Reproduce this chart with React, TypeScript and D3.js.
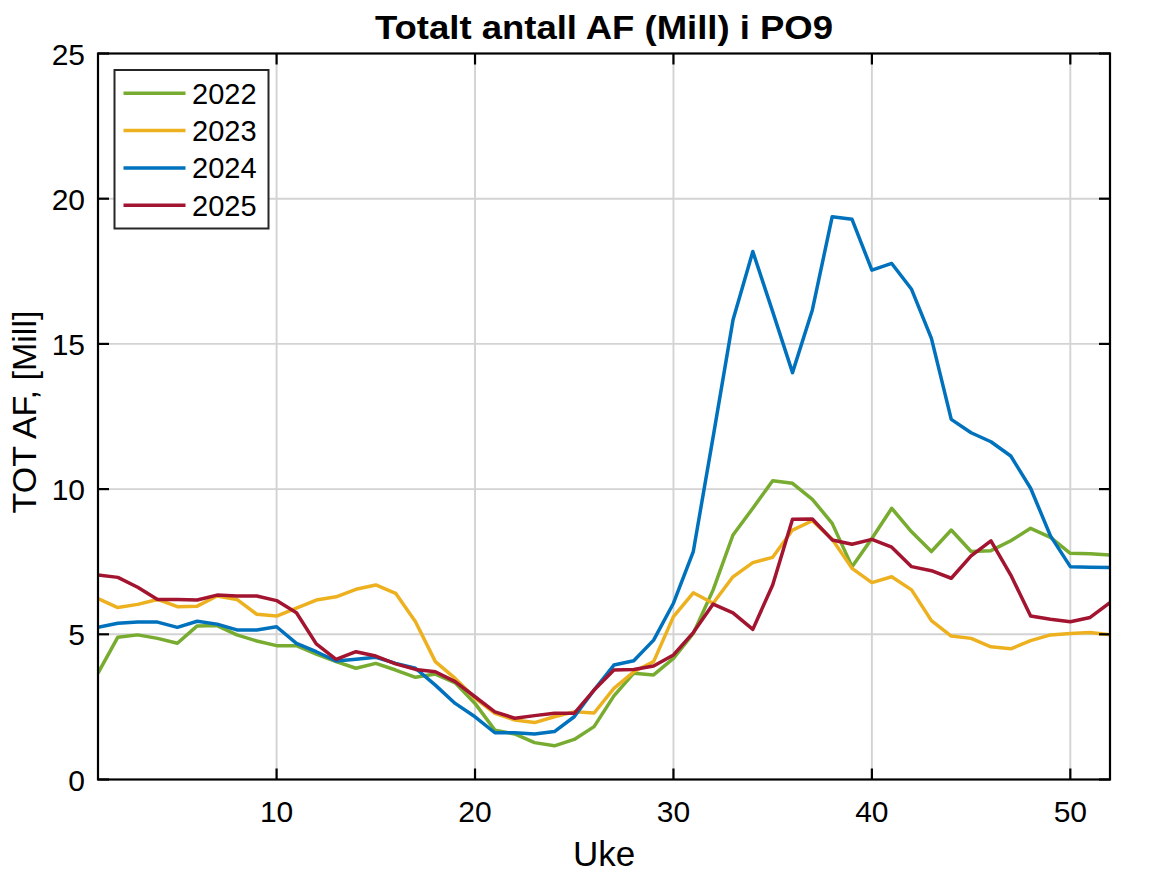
import React from "react";
import * as d3 from "d3";

const weeks = [1,2,3,4,5,6,7,8,9,10,11,12,13,14,15,16,17,18,19,20,21,22,23,24,25,26,27,28,29,30,31,32,33,34,35,36,37,38,39,40,41,42,43,44,45,46,47,48,49,50,51,52];

const y2022 = [3.66,4.90,4.98,4.86,4.69,5.29,5.30,4.98,4.77,4.61,4.61,4.32,4.06,3.83,4.00,3.77,3.52,3.63,3.33,2.62,1.70,1.57,1.27,1.16,1.38,1.82,2.88,3.66,3.60,4.17,5.03,6.53,8.42,9.34,10.29,10.20,9.65,8.82,7.33,8.30,9.34,8.53,7.85,8.59,7.85,7.88,8.22,8.65,8.34,7.79,7.77,7.73];
const y2023 = [6.23,5.92,6.03,6.20,5.95,5.97,6.32,6.20,5.69,5.63,5.90,6.18,6.29,6.55,6.70,6.41,5.43,4.06,3.48,2.80,2.28,2.05,1.96,2.16,2.33,2.29,3.14,3.71,4.06,5.61,6.43,6.07,6.98,7.47,7.65,8.59,8.91,8.27,7.27,6.78,6.98,6.53,5.47,4.94,4.86,4.57,4.50,4.78,4.98,5.03,5.06,4.98];
const y2024 = [5.24,5.38,5.42,5.42,5.24,5.45,5.35,5.15,5.15,5.26,4.69,4.40,4.08,4.14,4.21,4.00,3.83,3.25,2.62,2.16,1.61,1.61,1.57,1.65,2.16,3.08,3.94,4.09,4.80,6.07,7.85,11.8,15.82,18.18,16.11,14.01,16.17,19.38,19.29,17.54,17.77,16.88,15.19,12.40,11.94,11.63,11.14,10.03,8.39,7.33,7.31,7.30];
const y2025 = [7.04,6.96,6.62,6.20,6.20,6.18,6.35,6.32,6.32,6.16,5.74,4.67,4.14,4.40,4.25,3.98,3.79,3.71,3.37,2.85,2.33,2.11,2.20,2.28,2.28,3.08,3.77,3.79,3.91,4.29,5.06,6.04,5.74,5.17,6.70,8.96,8.97,8.25,8.10,8.27,8.00,7.33,7.19,6.93,7.70,8.22,7.04,5.63,5.52,5.43,5.58,6.09];

const seriesNames = ["2022", "2023", "2024", "2025"];
const seriesValues = [y2022, y2023, y2024, y2025];
const seriesColors = ["#77AC30", "#EDB120", "#0072BD", "#A2142F"];

const xTicks = [10, 20, 30, 40, 50];
const yTicks = [0, 5, 10, 15, 20, 25];

const title = "Totalt antall AF (Mill) i PO9";
const xLabel = "Uke";
const yLabel = "TOT AF, [Mill]";

const W = 1167, H = 875;
const L = 98, R = 1110, T = 53.5, B = 779.5;
const FONT = "'Liberation Sans', Arial, Helvetica, sans-serif";

export default function App() {
  const x = d3.scaleLinear().domain([1, 52]).range([L, R]);
  const y = d3.scaleLinear().domain([0, 25]).range([B, T]);
  const line = d3.line<number>().x((_, i) => x(weeks[i])).y((d) => y(d));
  const tickLen = 11;
  const lw = 3.5;

  return (
    <svg width={W} height={H} style={{ position: "absolute", left: 0, top: 0, background: "#fff" }} fontFamily={FONT}>
      <rect x={0} y={0} width={W} height={H} fill="#fff" />
      {xTicks.map((t) => (
        <line key={"gx" + t} x1={x(t)} x2={x(t)} y1={T} y2={B} stroke="#d3d3d3" strokeWidth={1.9} />
      ))}
      {yTicks.filter((t) => t > 0 && t < 25).map((t) => (
        <line key={"gy" + t} x1={L} x2={R} y1={y(t)} y2={y(t)} stroke="#d3d3d3" strokeWidth={1.9} />
      ))}
      <defs>
        <clipPath id="plotclip">
          <rect x={L} y={T} width={R - L} height={B - T} />
        </clipPath>
      </defs>
      <g clipPath="url(#plotclip)">
        {seriesValues.map((vals, k) => (
          <path key={seriesNames[k]} d={line(vals) || ""} fill="none" stroke={seriesColors[k]} strokeWidth={lw} strokeLinejoin="round" />
        ))}
      </g>
      {xTicks.map((t) => (
        <g key={"tx" + t}>
          <line x1={x(t)} x2={x(t)} y1={B} y2={B - tickLen} stroke="#000" strokeWidth={2.2} />
          <line x1={x(t)} x2={x(t)} y1={T} y2={T + tickLen} stroke="#000" strokeWidth={2.2} />
          <text x={x(t)} y={822} textAnchor="middle" fontSize={30} fill="#000">{t}</text>
        </g>
      ))}
      {yTicks.map((t) => (
        <g key={"ty" + t}>
          <line x1={L} x2={L + tickLen} y1={y(t)} y2={y(t)} stroke="#000" strokeWidth={2.2} />
          <line x1={R} x2={R - tickLen} y1={y(t)} y2={y(t)} stroke="#000" strokeWidth={2.2} />
          <text x={85} y={y(t) + 11} textAnchor="end" fontSize={30} fill="#000">{t}</text>
        </g>
      ))}
      <rect x={L} y={T} width={R - L} height={B - T} fill="none" stroke="#000" strokeWidth={2.2} />
      <rect x={114.5} y={70} width={154} height={158.5} fill="#fff" stroke="#262626" strokeWidth={2} />
      {seriesNames.map((n, k) => {
        const cy = 93.3 + k * 37.3;
        return (
          <g key={"lg" + n}>
            <line x1={123.5} x2={185.5} y1={cy} y2={cy} stroke={seriesColors[k]} strokeWidth={lw} />
            <text x={192} y={cy + 10.5} fontSize={29} fill="#000">{n}</text>
          </g>
        );
      })}
      <text x={(L + R) / 2} y={39} textAnchor="middle" fontSize={34} fontWeight="bold" fill="#000" textLength={458} lengthAdjust="spacingAndGlyphs">{title}</text>
      <text x={(L + R) / 2} y={866} textAnchor="middle" fontSize={35} fill="#000">{xLabel}</text>
      <text transform={`translate(36, 412) rotate(-90)`} textAnchor="middle" fontSize={34} fill="#000">{yLabel}</text>
    </svg>
  );
}
